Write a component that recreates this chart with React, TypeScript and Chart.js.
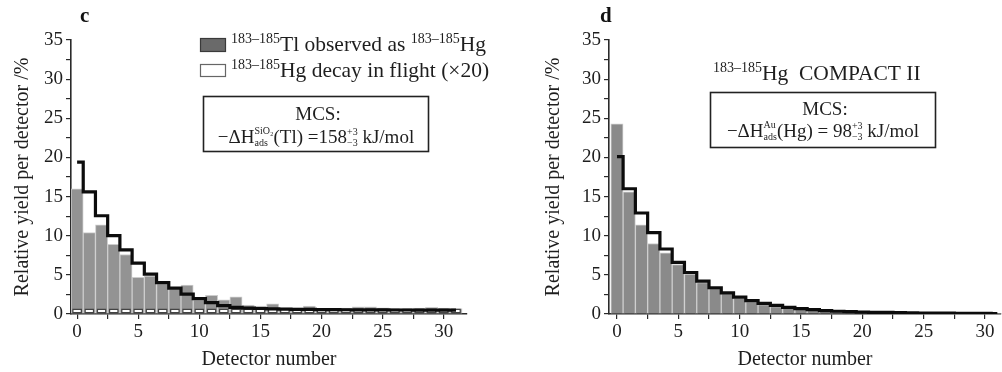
import React, { useEffect, useRef } from "react";
import { Chart, registerables } from "chart.js";

Chart.register(...registerables);

// ---------------- data ----------------
const detectors = [0, 1, 2, 3, 4, 5, 6, 7, 8, 9, 10, 11, 12, 13, 14, 15, 16, 17, 18, 19, 20, 21, 22, 23, 24, 25, 26, 27, 28, 29, 30, 31];

// panel c
const cObserved = [16.0, 10.4, 11.4, 8.9, 7.6, 4.7, 4.85, 3.9, 3.2, 3.7, 1.8, 2.4, 1.8, 2.2, 1.15, 1.0, 1.3, 0.8, 0.8, 1.0, 0.7, 0.7, 0.75, 0.9, 0.9, 0.8, 0.7, 0.7, 0.75, 0.85, 0.75, 0.7];
const cDecayInFlight = [0.7, 0.7, 0.7, 0.7, 0.7, 0.7, 0.7, 0.7, 0.7, 0.7, 0.7, 0.7, 0.7, 0.7, 0.7, 0.7, 0.7, 0.7, 0.7, 0.7, 0.7, 0.7, 0.7, 0.7, 0.7, 0.7, 0.7, 0.7, 0.7, 0.7, 0.7, 0.7];
const cSimulation = [19.4, 15.6, 12.55, 10.0, 8.2, 6.5, 5.1, 4.0, 3.3, 2.55, 1.96, 1.45, 1.06, 0.85, 0.75, 0.7, 0.66, 0.63, 0.6, 0.58, 0.56, 0.55, 0.54, 0.53, 0.52, 0.52, 0.51, 0.51, 0.5, 0.5, 0.5, 0.5];

// panel d
const dObserved = [24.3, 15.6, 11.4, 9.0, 7.8, 6.3, 5.1, 4.0, 3.3, 2.6, 2.0, 1.6, 1.2, 0.95, 0.75, 0.6, 0.48, 0.38, 0.3, 0.25, 0.2, 0.17, 0.15, 0.13, 0.11, 0.1, 0.09, 0.08, 0.07, 0.06, 0.05, 0.05];
const dSimulation = [20.1, 16.0, 12.9, 10.4, 8.3, 6.6, 5.3, 4.2, 3.35, 2.7, 2.15, 1.7, 1.35, 1.1, 0.85, 0.68, 0.55, 0.43, 0.35, 0.3, 0.25, 0.22, 0.2, 0.17, 0.15, 0.13, 0.12, 0.1, 0.09, 0.08, 0.07, 0.06];

const yMin = 0;
const yMax = 35;
const yStep = 2.5;
const xStep = 2.5;
const labelEvery = 5;
const xTitle = "Detector number";
const yTitle = "Relative yield per detector /%";

// ---------------- text helpers ----------------
const SERIF = '"Liberation Serif", "Times New Roman", serif';
const font = (size: number, bold = false) => `${bold ? "bold " : ""}${size}px ${SERIF}`;

type Piece =
  | { text: string; size: number; dy?: number }
  | { top: string; bottom: string; size: number; dyTop: number; dyBottom: number };

function pieceWidth(ctx: CanvasRenderingContext2D, p: Piece) {
  ctx.font = font(p.size);
  if ("text" in p) return ctx.measureText(p.text).width;
  return Math.max(ctx.measureText(p.top).width, ctx.measureText(p.bottom).width);
}

function drawPieces(ctx: CanvasRenderingContext2D, pieces: Piece[], x: number, y: number, align: "left" | "center" = "left") {
  ctx.save();
  ctx.fillStyle = "#1e1e1e";
  ctx.textAlign = "left";
  ctx.textBaseline = "alphabetic";
  let total = 0;
  for (const p of pieces) total += pieceWidth(ctx, p);
  let cx = align === "center" ? x - total / 2 : x;
  for (const p of pieces) {
    ctx.font = font(p.size);
    if ("text" in p) {
      ctx.fillText(p.text, cx, y + (p.dy || 0));
    } else {
      ctx.fillText(p.top, cx, y + p.dyTop);
      ctx.fillText(p.bottom, cx, y + p.dyBottom);
    }
    cx += pieceWidth(ctx, p);
  }
  ctx.restore();
}

// ---------------- chart factory ----------------
type PanelProps = {
  left: number;
  width: number;
  yAxisWidth: number;
  padRight: number;
  xMin: number;
  xMax: number;
  datasets: any[];
  annotate: (ctx: CanvasRenderingContext2D) => void;
};

function Panel({ left, width, yAxisWidth, padRight, xMin, xMax, datasets, annotate }: PanelProps) {
  const ref = useRef<HTMLCanvasElement | null>(null);
  useEffect(() => {
    if (!ref.current) return;
    const tickColor = "#2a2a2a";
    const chart = new Chart(ref.current, {
      type: "bar",
      data: { datasets },
      options: {
        responsive: false,
        animation: false,
        devicePixelRatio: 1,
        layout: { padding: { top: 40, right: padRight, left: 0, bottom: 0 } },
        plugins: { legend: { display: false }, tooltip: { enabled: false } },
        scales: {
          x: {
            type: "linear",
            offset: false,
            min: xMin,
            max: xMax,
            afterFit: (s: any) => {
              s.height = 58;
            },
            grid: { offset: false, drawOnChartArea: false, drawTicks: true, tickLength: 5, color: tickColor, lineWidth: 1.2 },
            border: { display: true, color: tickColor, width: 1.6 },
            ticks: {
              stepSize: xStep,
              includeBounds: false,
              autoSkip: false,
              maxRotation: 0,
              padding: 2,
              color: "#1e1e1e",
              font: { family: SERIF, size: 19 },
              callback: (v: any) => (Number(v) % labelEvery === 0 ? String(v) : ""),
            },
            title: { display: true, text: xTitle, color: "#1e1e1e", font: { family: SERIF, size: 20 }, padding: { top: 0, bottom: 0 } },
          },
          y: {
            type: "linear",
            min: yMin,
            max: yMax,
            afterFit: (s: any) => {
              s.width = yAxisWidth;
            },
            grid: { drawOnChartArea: false, drawTicks: true, tickLength: 5, color: tickColor, lineWidth: 1.2 },
            border: { display: true, color: tickColor, width: 1.6 },
            ticks: {
              stepSize: yStep,
              includeBounds: false,
              autoSkip: false,
              padding: 3,
              color: "#1e1e1e",
              font: { family: SERIF, size: 19 },
              callback: (v: any) => (Number(v) % labelEvery === 0 ? String(v) : ""),
            },
            title: { display: true, text: yTitle, color: "#1e1e1e", font: { family: SERIF, size: 20 }, padding: { top: 11, bottom: 0 } },
          },
        },
      },
      plugins: [
        {
          id: "notes",
          afterDraw(c: any) {
            annotate(c.ctx);
          },
        },
      ],
    } as any);
    return () => chart.destroy();
  }, []);
  return <canvas ref={ref} width={width} height={372} style={{ position: "absolute", left, top: 0 }} />;
}

const pts = (vals: number[]) => detectors.map((d, i) => ({ x: d, y: vals[i] }));

const greyBar = (vals: number[], fill: string) => ({
  type: "bar",
  data: pts(vals),
  backgroundColor: fill,
  borderColor: "#cdcdcd",
  borderWidth: 1,
  borderSkipped: "bottom",
  barPercentage: 1,
  categoryPercentage: 1,
  grouped: false,
  order: 3,
});

const stepLine = (vals: number[]) => ({
  type: "line",
  data: pts(vals),
  borderColor: "#0c0c0c",
  borderWidth: 3.2,
  pointRadius: 0,
  stepped: "middle",
  fill: false,
  order: 0,
});

const superA = "183–185";

function annotateC(ctx: CanvasRenderingContext2D) {
  const ox = 0;
  ctx.save();
  ctx.fillStyle = "#111";
  ctx.font = font(21, true);
  ctx.fillText("c", 80 - ox, 22);
  // legend boxes
  ctx.fillStyle = "#6a6a6a";
  ctx.strokeStyle = "#3a3a3a";
  ctx.lineWidth = 1.2;
  ctx.fillRect(200.5 - ox, 38.5, 25, 13);
  ctx.strokeRect(200.5 - ox, 38.5, 25, 13);
  ctx.fillStyle = "#ffffff";
  ctx.strokeStyle = "#666";
  ctx.fillRect(200.5 - ox, 64.5, 25, 12);
  ctx.strokeRect(200.5 - ox, 64.5, 25, 12);
  ctx.restore();
  drawPieces(ctx, [
    { text: superA, size: 14, dy: -8 },
    { text: "Tl observed as ", size: 21.5 },
    { text: superA, size: 14, dy: -8 },
    { text: "Hg", size: 21.5 },
  ], 231 - ox, 51);
  drawPieces(ctx, [
    { text: superA, size: 14, dy: -8 },
    { text: "Hg decay in flight (×20)", size: 21.5 },
  ], 231 - ox, 77);
  // MCS box
  ctx.save();
  ctx.strokeStyle = "#222";
  ctx.lineWidth = 1.6;
  ctx.strokeRect(203.5 - ox, 96.5, 225, 55);
  ctx.restore();
  drawPieces(ctx, [{ text: "MCS:", size: 19 }], 318 - ox, 120, "center");
  drawPieces(ctx, [
    { text: "−ΔH", size: 19 },
    { top: "SiO₂", bottom: "ads", size: 10, dyTop: -9, dyBottom: 3 },
    { text: "(Tl) =158", size: 19 },
    { top: "+3", bottom: "−3", size: 10, dyTop: -8, dyBottom: 3 },
    { text: " kJ/mol", size: 19 },
  ], 316 - ox, 143, "center");
}

function annotateD(ctx: CanvasRenderingContext2D) {
  const ox = 531;
  ctx.save();
  ctx.fillStyle = "#111";
  ctx.font = font(21, true);
  ctx.fillText("d", 600 - ox, 22);
  ctx.restore();
  drawPieces(ctx, [
    { text: superA, size: 14, dy: -8 },
    { text: "Hg  COMPACT II", size: 21.5 },
  ], 713 - ox, 80);
  ctx.save();
  ctx.strokeStyle = "#222";
  ctx.lineWidth = 1.6;
  ctx.strokeRect(710.5 - ox, 92.5, 225, 55);
  ctx.restore();
  drawPieces(ctx, [{ text: "MCS:", size: 19 }], 825 - ox, 115, "center");
  drawPieces(ctx, [
    { text: "−ΔH", size: 19 },
    { top: "Au", bottom: "ads", size: 10, dyTop: -9, dyBottom: 3 },
    { text: "(Hg) = 98", size: 19 },
    { top: "+3", bottom: "−3", size: 10, dyTop: -8, dyBottom: 3 },
    { text: " kJ/mol", size: 19 },
  ], 823 - ox, 137, "center");
}

export default function App() {
  const cDatasets = [
    greyBar(cObserved, "#939393"),
    {
      type: "bar",
      data: pts(cDecayInFlight),
      backgroundColor: "#ffffff",
      borderColor: "#444444",
      borderWidth: 1.4,
      borderSkipped: false,
      barPercentage: 0.8,
      categoryPercentage: 1,
      grouped: false,
      order: 1,
    },
    stepLine(cSimulation),
  ];
  const dDatasets = [greyBar(dObserved, "#8a8a8a"), stepLine(dSimulation)];
  return (
    <div style={{ position: "fixed", left: 0, top: 0, width: 1002, height: 372, background: "#fff", overflow: "hidden" }}>
      <Panel left={0} width={525} yAxisWidth={71} padRight={58} xMin={-0.5} xMax={31.9} datasets={cDatasets} annotate={annotateC} />
      <Panel left={531} width={471} yAxisWidth={78} padRight={1} xMin={-0.65} xMax={31.3} datasets={dDatasets} annotate={annotateD} />
    </div>
  );
}
